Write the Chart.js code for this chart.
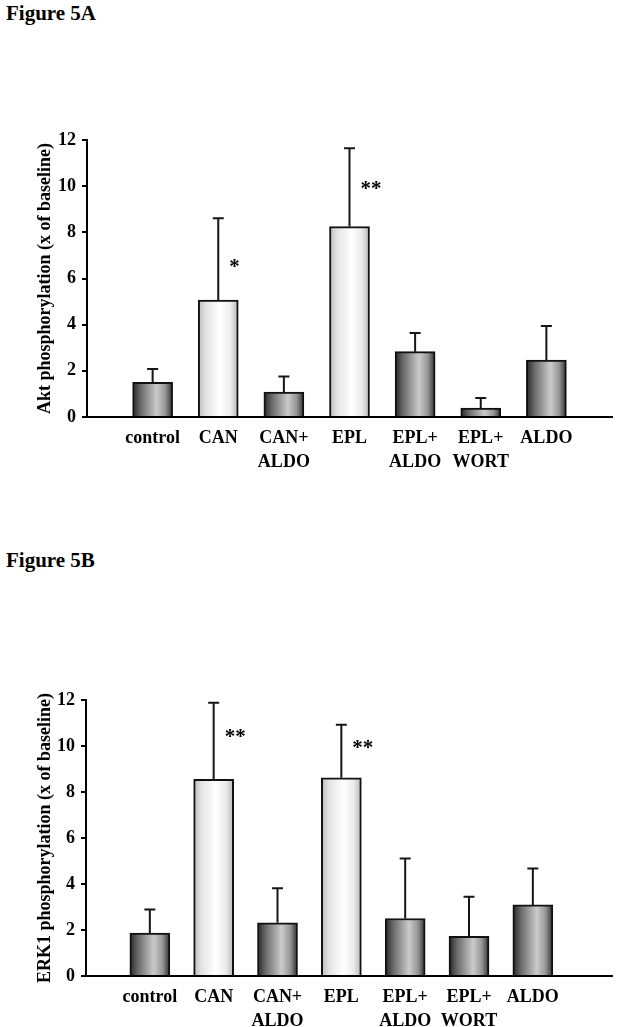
<!DOCTYPE html>
<html>
<head>
<meta charset="utf-8">
<script src="https://cdn.jsdelivr.net/npm/chart.js@4.4.1/dist/chart.umd.min.js"></script>
<style>
  html, body { margin: 0; padding: 0; background: #fff; }
  body { width: 622px; height: 1027px; position: relative; overflow: hidden; font-family: "Liberation Serif", "Times New Roman", serif; }
  .fig { position: absolute; left: 6px; font-weight: bold; font-size: 21px; line-height: 20px; color: #000; }
  .box { position: absolute; left: 0; }
</style>
</head>
<body>
<div class="fig" style="top:3px">Figure 5A</div>
<div class="box" style="top:100px"><canvas id="chartA" width="622" height="380"></canvas></div>
<div class="fig" style="top:550px">Figure 5B</div>
<div class="box" style="top:660px"><canvas id="chartB" width="622" height="367"></canvas></div>

<script>
// --- donnees ---
const categories = [['control'], ['CAN'], ['CAN+', 'ALDO'], ['EPL'], ['EPL+', 'ALDO'], ['EPL+', 'WORT'], ['ALDO']];

// Figure 5A : Akt
const aktMean = [1.50, 5.06, 1.08, 8.25, 2.83, 0.39, 2.47];
const aktErr  = [0.58, 3.55, 0.67, 3.39, 0.81, 0.43, 1.47];
const aktSig  = ['', '*', '', '**', '', '', ''];
const aktSigY = [null, 6.66, null, 10.05, null, null, null];

// Figure 5B : ERK1
const erkMean = [1.87, 8.55, 2.31, 8.62, 2.50, 1.73, 3.09];
const erkErr  = [1.02, 3.33, 1.51, 2.30, 2.61, 1.72, 1.58];
const erkSig  = ['', '**', '', '**', '', '', ''];
const erkSigY = [null, 10.55, null, 10.08, null, null, null];

const yMax = 12;
const yStep = 2;

// --- style ---
const FONT = '"Liberation Serif", "Times New Roman", serif';
const lightBars = [1, 3]; // CAN et EPL en clair

function barFill(c) {
    const chart = c.chart;
    const xs = chart.scales && chart.scales.x;
    if (!xs || !chart.chartArea || !c.raw) return '#999';
    const cx = xs.getPixelForValue(c.raw.x);
    if (!isFinite(cx)) return '#999';
    const g = chart.ctx.createLinearGradient(cx - 20, 0, cx + 20, 0);
    if (lightBars.includes(c.dataIndex)) {
        g.addColorStop(0, '#bdbdbd');
        g.addColorStop(0.2, '#e4e4e4');
        g.addColorStop(0.55, '#ffffff');
        g.addColorStop(0.8, '#ececec');
        g.addColorStop(1, '#b8b8b8');
    } else {
        g.addColorStop(0, '#262626');
        g.addColorStop(0.2, '#696969');
        g.addColorStop(0.6, '#cbcbcb');
        g.addColorStop(0.82, '#959595');
        g.addColorStop(1, '#2e2e2e');
    }
    return g;
}

// barres d'erreur (seulement vers le haut) + etoiles
const errorBarPlugin = {
    id: 'errorBars',
    afterDatasetsDraw(chart) {
        const ds = chart.data.datasets[0];
        const { ctx } = chart;
        const x = chart.scales.x, y = chart.scales.y;
        ctx.save();
        ctx.strokeStyle = '#161616';
        ctx.lineWidth = 2;
        ds.data.forEach((pt, i) => {
            const px = x.getPixelForValue(pt.x);
            const base = y.getPixelForValue(pt.y);
            const top = y.getPixelForValue(pt.y + ds.errors[i]);
            ctx.beginPath();
            ctx.moveTo(px, base); ctx.lineTo(px, top);
            ctx.moveTo(px - 5.5, top); ctx.lineTo(px + 5.5, top);
            ctx.stroke();
            if (ds.sig[i]) {
                ctx.fillStyle = '#000';
                ctx.font = 'bold 21px ' + FONT;
                ctx.textAlign = 'left';
                ctx.textBaseline = 'alphabetic';
                ctx.fillText(ds.sig[i], px + 11, y.getPixelForValue(ds.sigY[i]) + 10);
            }
        });
        ctx.restore();
    }
};

function makeChart(id, means, errs, sig, sigY, title, opt) {
    const data = means.map((v, i) => ({ x: i + 1, y: v }));
    return new Chart(document.getElementById(id), {
        type: 'bar',
        data: {
            datasets: [{
                data: data,
                errors: errs, sig: sig, sigY: sigY,
                backgroundColor: barFill,
                borderColor: '#111',
                borderWidth: 2,
                borderSkipped: 'start',
                barThickness: 40
            }]
        },
        options: {
            responsive: false,
            devicePixelRatio: 1,
            animation: false,
            layout: { padding: { top: 40, right: opt.padRight, bottom: 0, left: 0 } },
            plugins: { legend: { display: false }, tooltip: { enabled: false } },
            scales: {
                x: {
                    type: 'linear', min: 0, max: opt.xMax, offset: false,
                    grid: { display: false, drawTicks: false },
                    border: { display: true, color: '#000', width: 2, z: 1 },
                    ticks: {
                        stepSize: 1, autoSkip: false, maxRotation: 0, padding: 10,
                        color: '#000', font: { family: FONT, size: 18, weight: 'bold', lineHeight: 1.3 },
                        callback: (v) => (Number.isInteger(v) && v >= 1 && v <= categories.length) ? categories[v - 1] : ''
                    },
                    afterFit(s) { s.height = opt.xHeight; }
                },
                y: {
                    min: 0, max: yMax,
                    grid: { drawOnChartArea: false, drawTicks: true, tickLength: 5, color: '#000', lineWidth: 2 },
                    border: { display: true, color: '#000', width: 2 },
                    ticks: { stepSize: yStep, padding: 6, color: '#000', font: { family: FONT, size: 18, weight: 'bold' } },
                    title: {
                        display: true, text: title, color: '#000',
                        font: { family: FONT, size: 18, weight: 'bold' },
                        padding: { top: 35, bottom: 0 }
                    },
                    afterFit(s) { s.width = opt.yWidth; }
                }
            }
        },
        plugins: [errorBarPlugin]
    });
}

makeChart('chartA', aktMean, aktErr, aktSig, aktSigY, 'Akt phosphorylation (x of baseline)',
    { xMax: 8, padRight: 10, yWidth: 87, xHeight: 63 });
makeChart('chartB', erkMean, erkErr, erkSig, erkSigY, 'ERK1 phosphorylation (x of baseline)',
    { xMax: 8.24, padRight: 7, yWidth: 86, xHeight: 51 });
</script>
</body>
</html>
